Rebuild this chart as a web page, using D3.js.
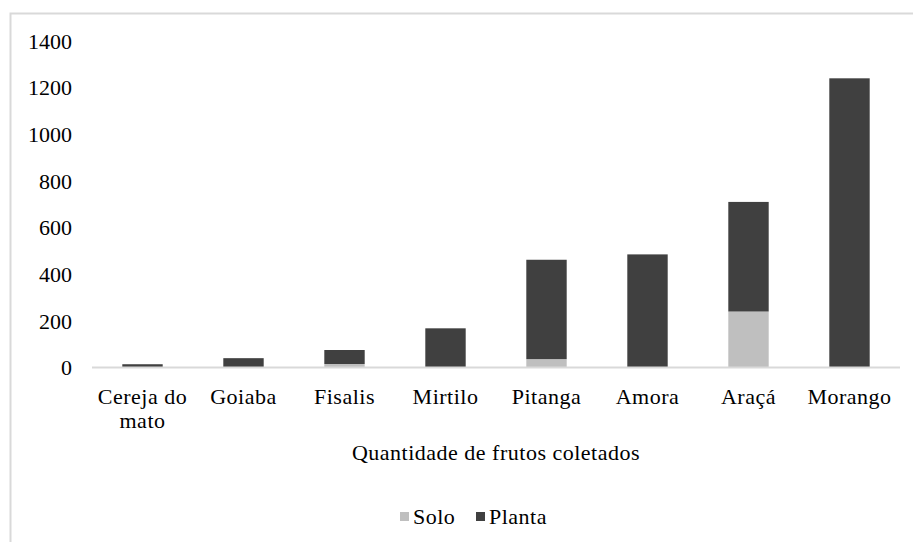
<!DOCTYPE html>
<html>
<head>
<meta charset="utf-8">
<script src="https://d3js.org/d3.v7.min.js"></script>
<style>
  body { margin: 0; background: #fff; }
  svg text { fill: #000; font-family: "Liberation Serif", "Times New Roman", serif; }
  .label { letter-spacing: 0.5px; }
</style>
</head>
<body>
<svg id="chart" width="913" height="542"></svg>
<script>
// data
var frutos = ["Cereja do mato", "Goiaba", "Fisalis", "Mirtilo", "Pitanga", "Amora", "Araçá", "Morango"];
var solo   = [0, 0, 15, 0, 36, 0, 240, 0];
var planta = [14, 40, 60, 168, 426, 485, 470, 1240];
var series = ["Solo", "Planta"];
var yTicks = [0, 200, 400, 600, 800, 1000, 1200, 1400];

var colors = { "Solo": "#bfbfbf", "Planta": "#404040" };
var fontSize = "22px";

var svg = d3.select("#chart");

// outer frame of the chart area
svg.append("rect")
  .attr("x", 10.5).attr("y", 13.5)
  .attr("width", 960).attr("height", 600)
  .attr("fill", "none").attr("stroke", "#d9d9d9").attr("stroke-width", 2);

var rows = frutos.map(function(f, i) {
  return { fruto: f, Solo: solo[i], Planta: planta[i] };
});
var stacked = d3.stack().keys(series)(rows);

var x = d3.scaleBand().domain(frutos).range([92, 900]).paddingInner(0.6).paddingOuter(0.3);
var y = d3.scaleLinear().domain([0, 1400]).range([367.5, 41]);

// y labels (no axis line)
svg.append("g").selectAll("text")
  .data(yTicks).enter().append("text")
  .attr("x", 72)
  .attr("y", function(d) { return y(d); })
  .attr("dy", "0.35em")
  .attr("text-anchor", "end")
  .style("font-size", fontSize)
  .text(function(d) { return d; });

// bars
svg.append("g").selectAll("g")
  .data(stacked).enter().append("g")
  .attr("fill", function(d) { return colors[d.key]; })
  .selectAll("rect")
  .data(function(d) { return d; }).enter().append("rect")
  .attr("x", function(d) { return x(d.data.fruto); })
  .attr("width", x.bandwidth())
  .attr("y", function(d) { return y(d[1]); })
  .attr("height", function(d) { return y(d[0]) - y(d[1]); });

// x axis
var xAxis = svg.append("g")
  .attr("transform", "translate(0," + y(0) + ")")
  .call(d3.axisBottom(x).tickSize(0).tickPadding(0));
xAxis.select(".domain").attr("stroke", "#d9d9d9").attr("stroke-width", 2)
  .attr("d", "M92,0H900");
xAxis.selectAll(".tick text").remove();

// category labels, wrapped like the original
var wrapLines = { "Cereja do mato": ["Cereja do", "mato"] };
frutos.forEach(function(f) {
  var lines = wrapLines[f] || [f];
  var t = svg.append("text")
    .attr("class", "label")
    .attr("text-anchor", "middle")
    .style("font-size", fontSize);
  lines.forEach(function(l, i) {
    t.append("tspan")
      .attr("x", x(f) + x.bandwidth() / 2)
      .attr("y", 404 + i * 24)
      .text(l);
  });
});

// axis title
svg.append("text")
  .attr("class", "label")
  .attr("x", 496).attr("y", 460)
  .attr("text-anchor", "middle")
  .style("font-size", fontSize)
  .text("Quantidade de frutos coletados");

// legend
var legend = svg.append("g");
var legX = [400, 476];
series.forEach(function(s, i) {
  legend.append("rect")
    .attr("x", legX[i]).attr("y", 512)
    .attr("width", 9).attr("height", 9)
    .attr("fill", colors[s]);
  legend.append("text")
    .attr("class", "label")
    .attr("x", legX[i] + 13).attr("y", 524)
    .style("font-size", fontSize)
    .text(s);
});
</script>
</body>
</html>
